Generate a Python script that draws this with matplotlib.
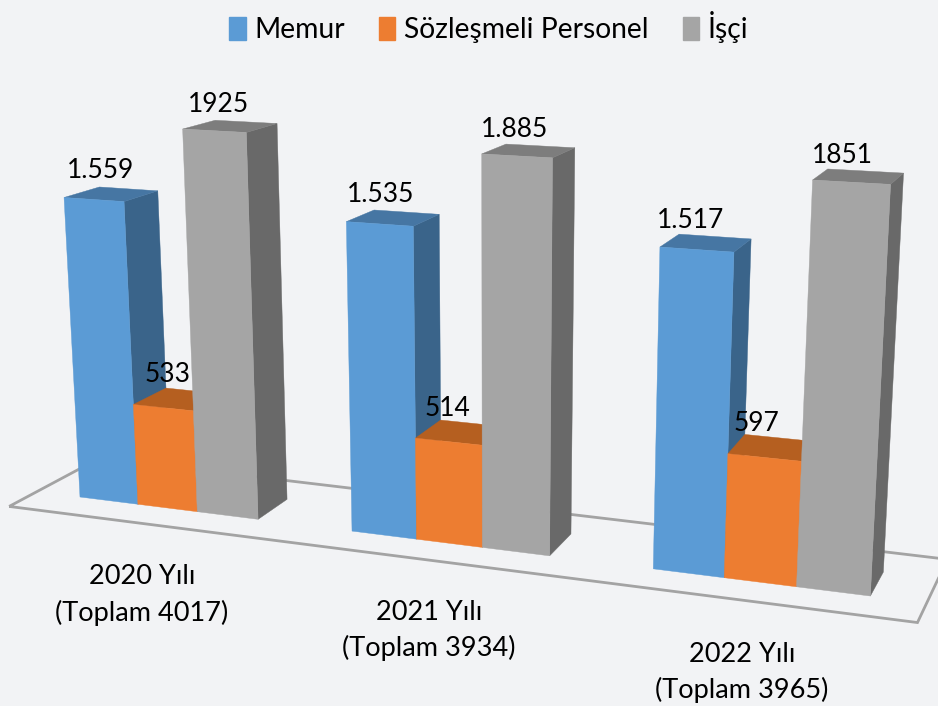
import matplotlib
matplotlib.use('Agg')
import matplotlib.pyplot as plt
from matplotlib.patches import Patch

plt.rcParams['font.family'] = ['Lato', 'DejaVu Sans']

years = ['2020 Yılı', '2021 Yılı', '2022 Yılı']
totals = ['(Toplam 4017)', '(Toplam 3934)', '(Toplam 3965)']
series = ['Memur', 'Sözleşmeli Personel', 'İşçi']
memur = [1559, 1535, 1517]
sozlesmeli = [533, 514, 597]
isci = [1925, 1885, 1851]
memur_labels = ['1.559', '1.535', '1.517']
sozlesmeli_labels = ['533', '514', '597']
isci_labels = ['1925', '1.885', '1851']

# front, top, side colours for each series
colors = [('#5b9bd5', '#4676a3', '#3a648a'),
          ('#ed7d31', '#b55f20', '#b55f20'),
          ('#a5a5a5', '#7d7d7d', '#696969')]
bg = '#f2f3f5'

group_start = [0, 4.5, 9]  # in bar widths along the floor
year_pos = [(142, 577), (429, 612), (742, 654)]


def ground(u, d):
    # Floor position, u along the categories and d in bar depths
    x = 80 + 57.2 * u + 0.722 * u ** 2
    y = 497 + 0.1253 * (x - 80)
    return x + d * (35.7 - 0.0261 * x), y + d * (-18.3 - 0.0065 * x)


def project(u, d, h=0):
    # Verticals converge on a point far below the picture
    bx, by = ground(u, d)
    rise = (0.192 + 0.000283 * (by - 497)) * h * (0.946 + 0.000035 * h)
    return bx - (494 - bx) / (8270 - by) * rise, by - rise


def face(ax, corners, color):
    xs, ys = zip(*[project(*c) for c in corners])
    ax.fill(xs, ys, color=color, lw=0.3)


def draw_bar(ax, u, h, front, top, side):
    face(ax, [(u + 1, 0, 0), (u + 1, 1, 0), (u + 1, 1, h), (u + 1, 0, h)], side)
    face(ax, [(u, 0, h), (u + 1, 0, h), (u + 1, 1, h), (u, 1, h)], top)
    face(ax, [(u, 0, 0), (u + 1, 0, 0), (u + 1, 0, h), (u, 0, h)], front)


def draw_label(ax, u, h, label):
    x, _ = project(u + 0.5, 0.5, h)
    _, y = project(u, 1, h)
    # Short bars and the right hand groups sit a little closer to their label
    gap = 17 - 4 * x / 938 - (3 if h < 1000 else 0)
    ax.text(x - 10 - 7 * x / 938, y - gap, label, fontsize=19, color='black',
            ha='center', va='center')


fig = plt.figure(figsize=(9.38, 7.06), dpi=100, facecolor=bg)
ax = fig.add_axes([0, 0, 1, 1])
ax.set_xlim(0, 938)
ax.set_ylim(706, 0)
ax.axis('off')

# Floor outline, runs off the right side of the picture
floor = [project(-0.76, -0.8), project(12.75, -0.8), project(12.75, 1.8), project(-0.76, 1.8)]
ax.fill(*zip(*floor), facecolor='none', edgecolor='#a3a3a3', lw=2, joinstyle='miter')

values = [memur, sozlesmeli, isci]
labels = [memur_labels, sozlesmeli_labels, isci_labels]
for g in range(3):
    for s in range(3):
        draw_bar(ax, group_start[g] + s, values[s][g], *colors[s])
    for s in range(3):
        draw_label(ax, group_start[g] + s, values[s][g], labels[s][g])
    ax.text(year_pos[g][0], year_pos[g][1], years[g], fontsize=19.5, ha='center', va='center')
    ax.text(year_pos[g][0], year_pos[g][1] + 36, totals[g], fontsize=19.5, ha='center', va='center')

handles = [Patch(color=c[0], label=n) for c, n in zip(colors, series)]
ax.legend(handles=handles, ncol=3, frameon=False, loc='upper center',
          bbox_to_anchor=(0.5213, 1.012), fontsize=20.3, handlelength=0.58, handleheight=0.9,
          handletextpad=0.32, columnspacing=1.2, borderaxespad=0.3)

fig.savefig('out.png', dpi=100, facecolor=bg)
